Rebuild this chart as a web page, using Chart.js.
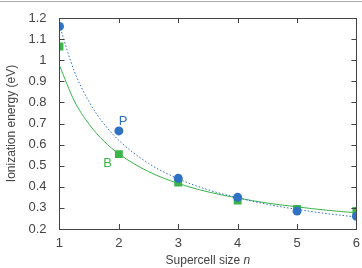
<!DOCTYPE html>
<html>
<head>
  <title>Ionization energy vs supercell size</title>
  <script src="https://cdn.jsdelivr.net/npm/chart.js"></script>
  <style>
    html, body { margin: 0; padding: 0; background: #fff; }
    #wrap { width: 362px; height: 268px; position: relative; }
  </style>
</head>
<body>
  <div id="wrap"><canvas id="ie-chart"></canvas></div>
  <script>
    // measured points
    const sizes = [1, 2, 3, 4, 5, 6];
    const valuesP = [1.16, 0.665, 0.44, 0.35, 0.285, 0.26];
    const valuesB = [1.065, 0.555, 0.42, 0.335, 0.295, 0.285];

    // fitted curves
    const fitX = [1, 1.25, 1.5, 1.75, 2, 2.5, 3, 3.5, 4, 4.5, 5, 5.5, 6];
    const fitP = [1.165, 0.947, 0.802, 0.698, 0.62, 0.511, 0.438, 0.386, 0.348, 0.317, 0.293, 0.273, 0.257];
    const fitB = [0.975, 0.807, 0.696, 0.616, 0.556, 0.472, 0.416, 0.376, 0.347, 0.323, 0.305, 0.289, 0.277];

    const yTicks = [0.2, 0.3, 0.4, 0.5, 0.6, 0.7, 0.8, 0.9, 1, 1.1, 1.2];
    const xTicks = [1, 2, 3, 4, 5, 6];

    const blue = '#2f72c4';
    const green = '#3bb44a';
    const font = '"Liberation Sans", Arial, sans-serif';

    const pairs = (xs, ys) => xs.map((x, i) => ({ x: x, y: ys[i] }));

    // frame, inward ticks, curve labels, x title and the thin rule at the top
    const framePlugin = {
      id: 'frame',
      afterDraw(chart) {
        const ctx = chart.ctx;
        const a = chart.chartArea;
        const xs = chart.scales.x, ys = chart.scales.y;
        ctx.save();
        ctx.strokeStyle = '#aaa';
        ctx.lineWidth = 1.2;
        ctx.beginPath();
        ctx.moveTo(0, 1.5);
        ctx.lineTo(chart.width, 1.5);
        ctx.stroke();

        ctx.strokeStyle = '#444';
        ctx.lineWidth = 1;
        ctx.strokeRect(Math.round(a.left) + 0.5, Math.round(a.top) + 0.5,
          Math.round(a.right - a.left), Math.round(a.bottom - a.top));
        ctx.beginPath();
        xTicks.forEach(v => {
          const px = Math.round(xs.getPixelForValue(v)) + 0.5;
          ctx.moveTo(px, a.bottom); ctx.lineTo(px, a.bottom - 5);
          ctx.moveTo(px, a.top); ctx.lineTo(px, a.top + 5);
        });
        yTicks.forEach(v => {
          const py = Math.round(ys.getPixelForValue(v)) + 0.5;
          ctx.moveTo(a.left, py); ctx.lineTo(a.left + 5, py);
          ctx.moveTo(a.right, py); ctx.lineTo(a.right - 5, py);
        });
        ctx.stroke();

        ctx.font = '13px ' + font;
        ctx.textAlign = 'center';
        ctx.textBaseline = 'middle';
        ctx.fillStyle = blue;
        ctx.fillText('P', xs.getPixelForValue(2.07), ys.getPixelForValue(0.71));
        ctx.fillStyle = green;
        ctx.fillText('B', xs.getPixelForValue(1.81), ys.getPixelForValue(0.513));

        // x axis title with italic n
        const main = 'Supercell size ';
        ctx.font = '12px ' + font;
        const w1 = ctx.measureText(main).width;
        ctx.font = 'italic 12px ' + font;
        const w2 = ctx.measureText('n').width;
        const cx = (a.left + a.right) / 2;
        const x0 = cx - (w1 + w2) / 2;
        ctx.textAlign = 'left';
        ctx.fillStyle = '#444';
        ctx.font = '12px ' + font;
        ctx.fillText(main, x0, chart.height - 7);
        ctx.font = 'italic 12px ' + font;
        ctx.fillText('n', x0 + w1, chart.height - 7);
        ctx.restore();
      }
    };

    const ctx = document.getElementById('ie-chart').getContext('2d');
    new Chart(ctx, {
      type: 'scatter',
      data: {
        datasets: [{
          label: 'P',
          data: pairs(sizes, valuesP),
          pointStyle: 'circle',
          pointRadius: 4.5,
          pointHoverRadius: 4.5,
          backgroundColor: blue,
          borderColor: blue,
          borderWidth: 0,
          showLine: false,
          order: 1
        }, {
          label: 'B',
          data: pairs(sizes, valuesB),
          pointStyle: 'rect',
          pointRadius: 5.6,
          pointHoverRadius: 5.6,
          backgroundColor: green,
          borderColor: green,
          borderWidth: 0,
          showLine: false,
          order: 2
        }, {
          label: 'P fit',
          data: pairs(fitX, fitP),
          showLine: true,
          pointRadius: 0,
          borderColor: blue,
          borderWidth: 1,
          borderDash: [1.5, 2],
          cubicInterpolationMode: 'monotone',
          order: 3
        }, {
          label: 'B fit',
          data: pairs(fitX, fitB),
          showLine: true,
          pointRadius: 0,
          borderColor: green,
          borderWidth: 1,
          cubicInterpolationMode: 'monotone',
          order: 4
        }]
      },
      options: {
        responsive: true,
        maintainAspectRatio: false,
        animation: false,
        layout: { padding: { top: 18, right: 2, left: 4, bottom: 18 } },
        plugins: {
          legend: { display: false },
          tooltip: { enabled: false }
        },
        scales: {
          x: {
            type: 'linear',
            min: 1,
            max: 6,
            afterBuildTicks: s => { s.ticks = xTicks.map(v => ({ value: v })); },
            grid: { display: false },
            border: { display: false },
            ticks: {
              color: '#444',
              padding: 0,
              font: { family: font, size: 13, lineHeight: 1 }
            },
            title: { display: false }
          },
          y: {
            min: 0.2,
            max: 1.2,
            afterBuildTicks: s => { s.ticks = yTicks.map(v => ({ value: v })); },
            grid: { display: false },
            border: { display: false },
            ticks: {
              color: '#444',
              padding: 5,
              font: { family: font, size: 13 },
              callback: v => String(Number(v.toFixed(1)))
            },
            title: {
              display: true,
              text: 'Ionization energy (eV)',
              color: '#444',
              padding: { top: 0, bottom: 5 },
              font: { family: font, size: 12 }
            }
          }
        }
      },
      plugins: [framePlugin]
    });
  </script>
</body>
</html>
